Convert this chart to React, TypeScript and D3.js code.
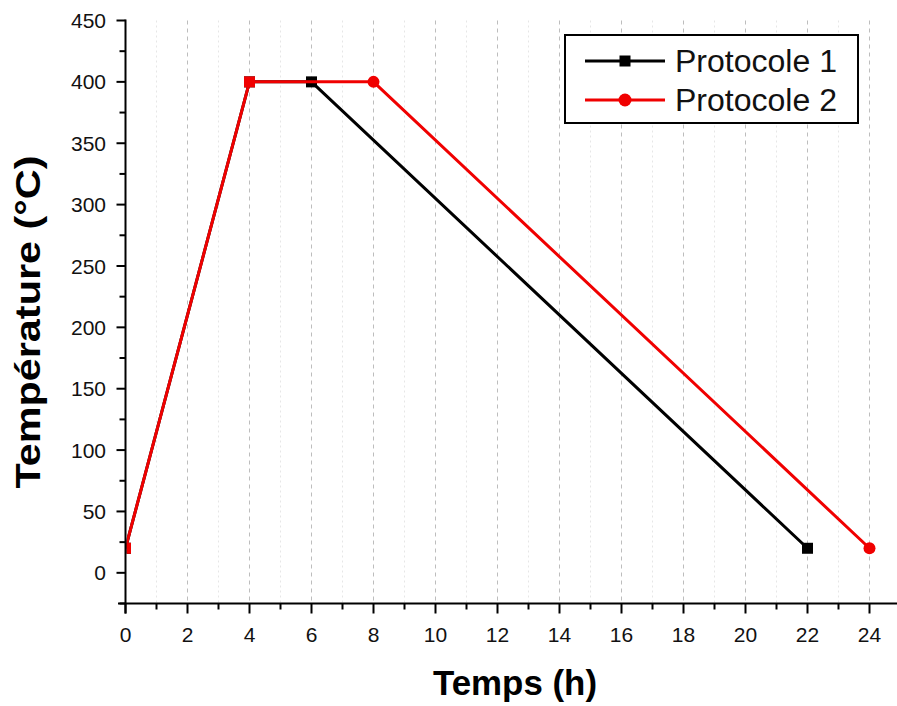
import React from "react";
import * as d3 from "d3";

const seriesNames = ["Protocole 1", "Protocole 2"];
const p1Time = [0, 4, 6, 22];
const p1Temp = [20, 400, 400, 20];
const p2Time = [0, 4, 8, 24];
const p2Temp = [20, 400, 400, 20];
// marker shape used for each point of protocol 2 (shared first points drawn as squares)
const p2Shapes = ["square", "square", "circle", "circle"];
const xTicks = [0, 2, 4, 6, 8, 10, 12, 14, 16, 18, 20, 22, 24];
const yTicks = [0, 50, 100, 150, 200, 250, 300, 350, 400, 450];

const W = 897;
const H = 706;
const FONT = "'Liberation Sans', Arial, Helvetica, sans-serif";

export default function App() {
  const x = d3.scaleLinear().domain([0, 24]).range([125.5, 869.5]);
  const y = d3.scaleLinear().domain([-25, 450]).range([603.5, 20.5]);
  const xMinor = d3.range(1, 25, 2);
  const yMinor = d3.range(-25, 450, 50);
  const line = d3
    .line<[number, number]>()
    .x((d) => x(d[0]))
    .y((d) => y(d[1]));
  const p1: [number, number][] = p1Time.map((t, i) => [t, p1Temp[i]]);
  const p2: [number, number][] = p2Time.map((t, i) => [t, p2Temp[i]]);
  const red = "#f00000";
  const axisY = y(-25);
  const sq = 11;

  return (
    <svg width={W} height={H} style={{ position: "absolute", left: 0, top: 0, background: "#fff" }}>
      <defs>
        <clipPath id="plotClip">
          <rect x={x(0) + 1} y={0} width={W} height={axisY} />
        </clipPath>
      </defs>
      <rect x={0} y={0} width={W} height={H} fill="#fff" />
      {/* minor grid */}
      {xMinor.map((v) => (
        <line key={"gm" + v} x1={x(v)} x2={x(v)} y1={y(450)} y2={axisY} stroke="#e6e6e6" strokeWidth={1} strokeDasharray="2,3" />
      ))}
      {/* major grid */}
      {xTicks.filter((v) => v > 0).map((v) => (
        <line key={"g" + v} x1={x(v)} x2={x(v)} y1={y(450)} y2={axisY} stroke="#bdbdbd" strokeWidth={1} strokeDasharray="4,4" />
      ))}
      {/* series */}
      <g clipPath="url(#plotClip)">
        <path d={line(p1) || ""} fill="none" stroke="#000" strokeWidth={3} strokeLinejoin="round" />
        {p1.map((d, i) => (
          <rect key={"m1" + i} x={x(d[0]) - sq / 2} y={y(d[1]) - sq / 2} width={sq} height={sq} fill="#000" />
        ))}
        <path d={line(p2) || ""} fill="none" stroke={red} strokeWidth={3} strokeLinejoin="round" />
        {p2.map((d, i) =>
          p2Shapes[i] === "square" ? (
            <rect key={"m2" + i} x={x(d[0]) - sq / 2} y={y(d[1]) - sq / 2} width={sq} height={sq} fill={red} />
          ) : (
            <circle key={"m2" + i} cx={x(d[0])} cy={y(d[1])} r={6} fill={red} />
          )
        )}
      </g>
      {/* axes */}
      <line x1={x(0)} x2={x(0)} y1={y(450) - 1} y2={axisY + 10} stroke="#000" strokeWidth={2} />
      <line x1={118} x2={W} y1={axisY} y2={axisY} stroke="#000" strokeWidth={2} />
      {yTicks.map((v) => (
        <g key={"yt" + v}>
          <line x1={x(0) - 9} x2={x(0)} y1={y(v)} y2={y(v)} stroke="#000" strokeWidth={2} />
          <text x={106} y={y(v)} dy="0.36em" textAnchor="end" fontFamily={FONT} fontSize={21} fill="#111">
            {v}
          </text>
        </g>
      ))}
      {yMinor.map((v) => (
        <line key={"ym" + v} x1={x(0) - 6} x2={x(0)} y1={y(v)} y2={y(v)} stroke="#000" strokeWidth={2} />
      ))}
      {xTicks.map((v) => (
        <g key={"xt" + v}>
          <line x1={x(v)} x2={x(v)} y1={axisY} y2={axisY + 10} stroke="#000" strokeWidth={2} />
          <text x={x(v)} y={642} textAnchor="middle" fontFamily={FONT} fontSize={21} fill="#111">
            {v}
          </text>
        </g>
      ))}
      {xMinor.map((v) => (
        <line key={"xm" + v} x1={x(v)} x2={x(v)} y1={axisY} y2={axisY + 6} stroke="#000" strokeWidth={2} />
      ))}
      {/* titles */}
      <text x={515} y={695} textAnchor="middle" fontFamily={FONT} fontWeight="bold" fontSize={35} fill="#000" textLength={164} lengthAdjust="spacingAndGlyphs">
        Temps (h)
      </text>
      <text
        transform={`translate(40,322) rotate(-90)`}
        textAnchor="middle"
        fontFamily={FONT}
        fontWeight="bold"
        fontSize={35}
        fill="#000"
        textLength={333}
        lengthAdjust="spacingAndGlyphs"
      >
        Température (°C)
      </text>
      {/* legend */}
      <rect x={565} y={35} width={293} height={88} fill="#fff" stroke="#000" strokeWidth={2} />
      <line x1={585} x2={665} y1={61} y2={61} stroke="#000" strokeWidth={3} />
      <rect x={625 - sq / 2} y={61 - sq / 2} width={sq} height={sq} fill="#000" />
      <text x={675} y={72} fontFamily={FONT} fontSize={31} fill="#111" textLength={162} lengthAdjust="spacingAndGlyphs">
        {seriesNames[0]}
      </text>
      <line x1={585} x2={665} y1={100} y2={100} stroke={red} strokeWidth={3} />
      <circle cx={625} cy={100} r={6.5} fill={red} />
      <text x={675} y={111} fontFamily={FONT} fontSize={31} fill="#111" textLength={162} lengthAdjust="spacingAndGlyphs">
        {seriesNames[1]}
      </text>
    </svg>
  );
}
